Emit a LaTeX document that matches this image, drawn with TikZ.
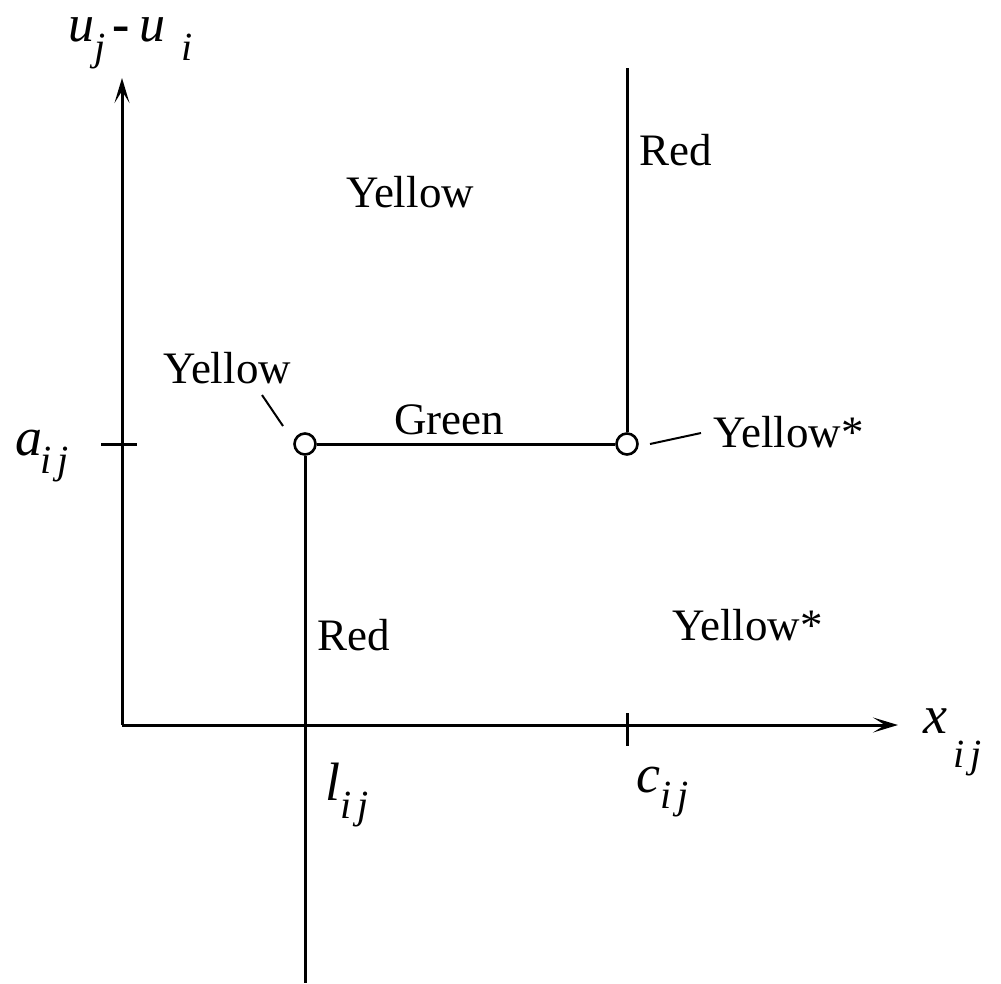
\documentclass[tikz,border=0pt]{standalone}
\usepackage{fontspec}
\setmainfont{Liberation Serif}
\usetikzlibrary{arrows.meta}
\newcommand\mysub[2]{\raisebox{-#1pt}{\fontsize{40}{42}\selectfont\textit{#2}}}
\tikzset{
  lbl/.style={inner sep=0pt, font=\fontsize{45}{50}\selectfont},
  mth/.style={inner sep=0pt, font=\fontsize{54}{58}\selectfont\itshape},
  ln/.style={line width=3pt},
  lead/.style={line width=2pt},
  axisline/.style={line width=3pt, -{Stealth[length=25pt,width=15pt,inset=12pt]}},
  dot/.style={circle, draw, line width=2.6pt, minimum size=21pt, inner sep=0pt, fill=white},
}
\begin{document}
\begin{tikzpicture}[x=1pt,y=-1pt]
\useasboundingbox (0,0) rectangle (1001,983);
% axes
\coordinate (O) at (122,725);
\coordinate (ytop) at (122,78);
\coordinate (xend) at (898,725);
\draw[axisline] (O) -- (ytop);
\draw[axisline] (O) -- (xend);
% ticks
\coordinate (at1) at (101,444); \coordinate (at2) at (137,444);
\draw[ln] (at1) -- (at2);
\coordinate (ct1) at (627,713); \coordinate (ct2) at (627,746);
\draw[ln] (ct1) -- (ct2);
% points
\node[dot] (L) at (305,444) {};
\node[dot] (R) at (627,444) {};
\coordinate (Lbot) at (305,983);
\coordinate (Rtop) at (627,68);
\draw[ln] (L) -- (R);
\draw[ln] (L) -- (Lbot);
\draw[ln] (R) -- (Rtop);
% leaders
\coordinate (la) at (262,395); \coordinate (lb) at (283,426);
\draw[lead] (la) -- (lb);
\coordinate (ra) at (650,444); \coordinate (rb) at (701,433);
\draw[lead] (ra) -- (rb);
% labels
\node[lbl, anchor=west] (red1) at (639,150) {Red};
\node[lbl] (yel1) at (410,192) {Yellow};
\node[lbl] (yel2) at (227,368) {Yellow};
\node[lbl] (grn) at (449,420) {Green};
\node[lbl, anchor=west] (yels1) at (713,432) {Yellow*};
\node[lbl, anchor=west] (red2) at (317,635) {Red};
\node[lbl, anchor=west] (yels2) at (672,625) {Yellow*};
% math labels
\node[mth, anchor=base west, font=\fontsize{52}{56}\selectfont\itshape] (ylab) at (68,41) {\raisebox{0pt}[27pt][30pt]{u\hspace{0pt}\mysub{19}{j}\hspace{7pt}\textbf{\upshape -}\hspace{10pt}u\hspace{16pt}\mysub{19}{i}}};
\node[mth, anchor=base west] (alab) at (15,455) {a\hspace{-2pt}\mysub{18}{i\hspace{6pt}j}};
\node[mth, anchor=base west] (xlab) at (923,733) {x\hspace{6pt}\mysub{34}{i\hspace{6pt}j}};
\node[mth, anchor=base west] (llab) at (325,800) {l\mysub{18}{i\hspace{6pt}j}};
\node[mth, anchor=base west] (clab) at (636,792) {c\mysub{16}{i\hspace{6pt}j}};
\end{tikzpicture}
\end{document}
